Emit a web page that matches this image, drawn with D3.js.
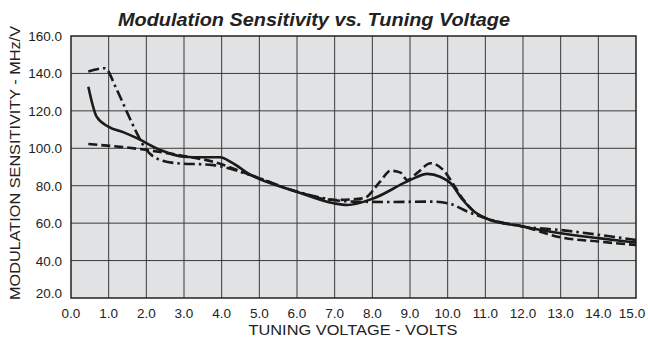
<!DOCTYPE html>
<html><head><meta charset="utf-8">
<script src="https://cdn.jsdelivr.net/npm/d3@7"></script>
<style>body{margin:0;background:#fff}svg{display:block}</style>
</head><body>
<svg id="c" width="648" height="341"></svg>
<script>
const xTicks = [0,1,2,3,4,5,6,7,8,9,10,11,12,13,14,15];
const yTicks = [20,40,60,80,100,120,140,160];
const solidX = [0.46,0.68,0.99,1.4,1.75,2.37,2.99,3.5,3.96,4.23,4.76,6.0,6.98,7.33,8.04,9.0,9.46,9.8,10.08,10.4,10.7,11.01,12.03,13,14,15];
const solidY = [132.9,116.9,111.6,108.5,105.4,99.1,95.5,95.2,95.2,92.8,85.9,76.8,70.6,69.7,73.3,83,86.3,84.8,81.3,72.5,66.2,62.6,58.1,54.6,52,49.6];
const dashX = [0.46,2.01,2.99,3.78,4.76,6.0,6.98,7.77,8.2,8.48,8.75,8.93,9.2,9.55,9.9,10.08,10.4,10.7,11.01,12.03,13,14,15];
const dashY = [102.3,99.1,95.9,92.8,85.7,76.8,72.4,73.3,82,88,87,83,87,92,88,83,73,66.2,62.6,58.1,52.4,50.2,48.3];
const ddX = [0.46,0.9,1.2,1.48,1.75,1.97,2.19,2.72,3.78,4.76,6.0,6.98,7.5,8.5,9.55,10.08,10.52,11.01,12.03,13,14,15];
const ddY = [141,142.8,132,119.6,108,100,95.5,92.2,91,85.7,76.8,72.4,71.5,71.3,71.5,70.2,66.2,62.6,58.1,56.3,53.8,51];

const svg = d3.select('#c');
const L=71,R=636,T=36,B=298;
const x = d3.scaleLinear().domain([0,15]).range([L,R]);
const y = d3.scaleLinear().domain([20,160]).range([B,T]);

svg.append('rect').attr('x',L).attr('y',T).attr('width',R-L).attr('height',B-T).attr('fill','#e1e2e4');
const g = svg.append('g');
g.selectAll('.vg').data(xTicks.slice(1,-1)).enter().append('line')
  .attr('x1',d=>x(d)).attr('x2',d=>x(d)).attr('y1',T).attr('y2',B)
  .attr('stroke','#3a3a3a').attr('stroke-width',1);
g.selectAll('.hg').data(yTicks.slice(1,-1)).enter().append('line')
  .attr('y1',d=>y(d)).attr('y2',d=>y(d)).attr('x1',L).attr('x2',R)
  .attr('stroke','#3a3a3a').attr('stroke-width',1);
svg.append('rect').attr('x',L).attr('y',T).attr('width',R-L).attr('height',B-T).attr('fill','none').attr('stroke','#222').attr('stroke-width',1.5);

const font = "'Liberation Sans', Arial, sans-serif";
svg.selectAll('.xl').data(xTicks).enter().append('text')
  .attr('x',d=>x(d) - (d===15?4:0)).attr('y',318).attr('text-anchor','middle')
  .attr('font-family',font).attr('font-size',13.5).attr('fill','#222')
  .text(d=>d.toFixed(1));
svg.selectAll('.yl').data(yTicks).enter().append('text')
  .attr('x',62).attr('y',d=>y(d)+(d===20?0:5)).attr('text-anchor','end')
  .attr('font-family',font).attr('font-size',13.5).attr('fill','#222')
  .text(d=>d.toFixed(1));

svg.append('text').attr('x',353).attr('y',335).attr('text-anchor','middle')
  .attr('font-family',font).attr('font-size',15).attr('fill','#222')
  .attr('textLength',209).attr('lengthAdjust','spacingAndGlyphs').text('TUNING VOLTAGE - VOLTS');
svg.append('text').attr('transform','translate(20,163) rotate(-90)').attr('text-anchor','middle')
  .attr('font-family',font).attr('font-size',14.5).attr('fill','#222')
  .attr('textLength',274).attr('lengthAdjust','spacingAndGlyphs').text('MODULATION SENSITIVITY - MHz/V');
svg.append('text').attr('x',314).attr('y',26).attr('text-anchor','middle')
  .attr('font-family',font).attr('font-size',19).attr('font-weight','bold').attr('font-style','italic')
  .attr('textLength',392).attr('lengthAdjust','spacingAndGlyphs')
  .attr('fill','#222').text('Modulation Sensitivity vs. Tuning Voltage');

const line = d3.line().x(d=>x(d[0])).y(d=>y(d[1])).curve(d3.curveMonotoneX);
const series = [
  {xs:ddX, ys:ddY, dash:'11,4,2.5,4'},
  {xs:dashX, ys:dashY, dash:'9,4'},
  {xs:solidX, ys:solidY, dash:null}
];
series.forEach(s=>{
  const pts = s.xs.map((v,i)=>[v,s.ys[i]]);
  svg.append('path').attr('d',line(pts)).attr('fill','none').attr('stroke','#1a1a1a')
    .attr('stroke-width',2.6).attr('stroke-dasharray',s.dash);
});
</script>
</body></html>
